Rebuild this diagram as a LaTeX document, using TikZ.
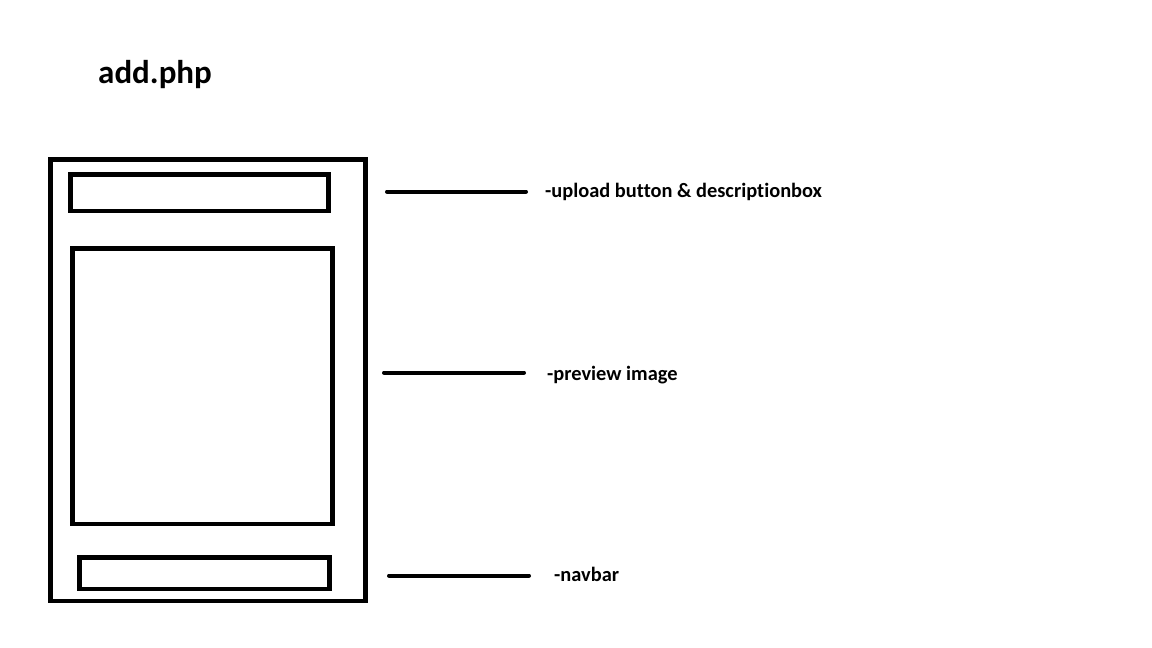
\documentclass[tikz,border=0pt]{standalone}
\usepackage{fontspec}
\setmainfont[Ligatures={NoCommon}]{Carlito}
\begin{document}
\begin{tikzpicture}[x=1pt,y=-1pt,
  box/.style={draw=black,line width=4.5pt},
  lead/.style={draw=black,line width=4pt,line cap=round},
  lbl/.style={anchor=base west,inner sep=0pt,font=\fontsize{20.4}{24}\selectfont\bfseries}]
\useasboundingbox[fill=white] (0,0) rectangle (1152,648);
\node[anchor=base west,inner sep=0pt,font=\fontsize{33}{40}\selectfont\bfseries] (title) at (98,83) {add.php};
\draw[box] (50.5,159.5) rectangle (365.5,601);
\draw[box] (70.5,174.5) rectangle (328.5,211);
\draw[box] (72.5,248.5) rectangle (332.5,524);
\draw[box] (79.5,557.5) rectangle (329.5,589);
\coordinate (l1a) at (387,191.5); \coordinate (l1b) at (526,191.5);
\coordinate (l2a) at (384,372.5); \coordinate (l2b) at (524,372.5);
\coordinate (l3a) at (389,575.5); \coordinate (l3b) at (529,575.5);
\draw[lead] (l1a) -- (l1b);
\draw[lead] (l2a) -- (l2b);
\draw[lead] (l3a) -- (l3b);
\node[lbl] (t1) at (545,197) {-upload button \& descriptionbox};
\node[lbl] (t2) at (547,380) {-preview image};
\node[lbl] (t3) at (554,581) {-navbar};
\end{tikzpicture}
\end{document}
